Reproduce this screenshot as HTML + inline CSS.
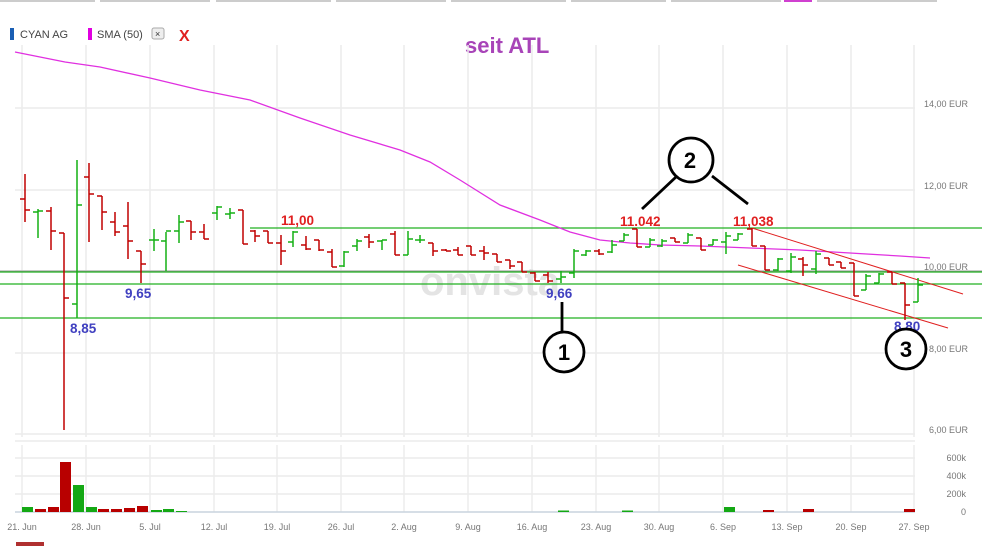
<!DOCTYPE html>
<html><head><meta charset="utf-8"><style>
body{margin:0;background:#fff;width:982px;height:546px;overflow:hidden;font-family:"Liberation Sans",sans-serif}
svg{position:absolute;left:0;top:0}
</style></head><body>
<svg id="s" width="982" height="546" xmlns="http://www.w3.org/2000/svg" font-family="Liberation Sans, sans-serif">
<g fill="#ccc"><rect x="0" y="0" width="95" height="2"/><rect x="100" y="0" width="110" height="2"/><rect x="216" y="0" width="115" height="2"/><rect x="336" y="0" width="110" height="2"/><rect x="451" y="0" width="115" height="2"/><rect x="571" y="0" width="95" height="2"/><rect x="671" y="0" width="110" height="2"/><rect x="784" y="0" width="28" height="2" fill="#d040d0"/><rect x="817" y="0" width="120" height="2"/></g>
<rect x="10" y="28" width="4" height="12" fill="#1a5fb4"/><text x="20" y="38" font-size="11" fill="#444">CYAN AG</text>
<rect x="88" y="28" width="4" height="12" fill="#e000e0"/><text x="97" y="38" font-size="11" fill="#444">SMA (50)</text>
<rect x="152" y="28" width="12" height="11" rx="2" fill="#eee" stroke="#aaa"/><text x="155" y="37" font-size="9" fill="#333">×</text>
<text x="179" y="41" font-size="16" font-weight="bold" fill="#e02020">X</text>
<text x="465" y="53" font-size="22" font-weight="bold" fill="#a844b8">seit ATL</text>
<g id="grid" stroke="#ececec" stroke-width="1.5"></g>
<text x="420" y="295" font-size="40" font-weight="bold" fill="#e4e4e4">onvista</text>
<g id="ax" font-size="9" fill="#777"></g>
<g id="lines"></g>
<g id="bars" stroke-width="1.5"></g>
<g id="vol"></g>
<g font-weight="bold" font-size="13.5">
<text x="281" y="225" fill="#e02020">11,00</text>
<text x="620" y="226" fill="#e02020">11.042</text>
<text x="733" y="226" fill="#e02020">11,038</text>
<text x="125" y="298" fill="#4040c0">9,65</text>
<text x="70" y="333" fill="#4040c0">8,85</text>
<text x="546" y="298" fill="#4040c0">9,66</text>
<text x="894" y="331" fill="#4040c0">8,80</text>
</g>
<g stroke="#000" stroke-width="2.8" fill="#fff">
<line x1="562" y1="302" x2="562" y2="332"/>
<circle cx="564" cy="352" r="20"/>
<line x1="642" y1="209" x2="676" y2="177"/><line x1="748" y1="204" x2="712" y2="176"/>
<circle cx="691" cy="160" r="22"/>
<circle cx="906" cy="349" r="20"/>
</g>
<g font-size="22" font-weight="bold" fill="#000" text-anchor="middle">
<text x="564" y="360">1</text><text x="690" y="168">2</text><text x="906" y="357">3</text></g>
<rect x="16" y="542" width="28" height="4" fill="#b03030"/>
</svg>
<script>
const ns="http://www.w3.org/2000/svg";
function el(p,t,a,txt){const e=document.createElementNS(ns,t);for(const k in a)e.setAttribute(k,a[k]);if(txt)e.textContent=txt;document.getElementById(p).appendChild(e);return e;}
const xs=[22,86,150,214,277,341,404,468,532,596,659,723,787,851,914];
const dl=["21. Jun","28. Jun","5. Jul","12. Jul","19. Jul","26. Jul","2. Aug","9. Aug","16. Aug","23. Aug","30. Aug","6. Sep","13. Sep","20. Sep","27. Sep"];
xs.forEach((x,i)=>{el("grid","line",{x1:x,y1:45,x2:x,y2:437});el("grid","line",{x1:x,y1:445,x2:x,y2:512});
el("ax","text",{x:x,y:530,"text-anchor":"middle"},dl[i]);});
[[108,"14,00"],[190,"12,00"],[271,"10,00"],[353,"8,00"],[434,"6,00"]].forEach(([y,l])=>{el("grid","line",{x1:15,y1:y,x2:915,y2:y});el("ax","text",{x:968,y:y-1,"text-anchor":"end"},l+" EUR");});
[[441,""],[458,"600k"],[476,"400k"],[494,"200k"],[512,"0"]].forEach(([y,l])=>{el("grid","line",{x1:15,y1:y,x2:915,y2:y});if(l)el("ax","text",{x:966,y:y+3,"text-anchor":"end"},l);});
el("lines","line",{x1:15,y1:512,x2:915,y2:512,stroke:"#b8c8d8","stroke-width":1});
el("lines","line",{x1:0,y1:271,x2:982,y2:271,stroke:"#999","stroke-width":1});
[[250,228],[0,272],[0,284],[0,318]].forEach(([x,y])=>el("lines","line",{x1:x,y1:y,x2:982,y2:y,stroke:"#22b022","stroke-width":1.2}));
el("lines","polyline",{points:"15,52 65,62 100,67 150,78 200,90 250,100 300,118 350,135 400,150 430,162 460,180 500,205 540,220 570,232 600,240 630,243 660,245 700,246 750,248 800,250 850,253 900,256 930,258",fill:"none",stroke:"#e030e0","stroke-width":1.3});
el("lines","line",{x1:752,y1:228,x2:963,y2:294,stroke:"#e02020","stroke-width":1});
el("lines","line",{x1:738,y1:265,x2:948,y2:328,stroke:"#e02020","stroke-width":1});
const B=[[25,174,222,199,210],[38,209,238,212,211],[51,207,250,211,231],[64,233,430,233,298],[77,160,318,304,205],[89,163,242,177,194],[102,196,230,196,212],[115,212,236,222,232],[128,202,259,226,241],[141,251,283,251,264],[154,229,251,240,240],[166,232,271,241,231],[179,215,243,231,222],[191,221,240,221,232],[204,224,239,232,239],[217,206,220,213,207],[230,208,219,214,213],[243,210,244,210,244],[255,230,242,231,236],[268,231,243,231,243],[281,235,265,243,251],[293,231,247,242,232],[306,236,250,245,249],[319,240,251,240,250],[332,249,267,252,267],[344,251,267,266,252],[357,239,251,246,241],[369,234,248,237,242],[382,240,250,241,240],[395,231,255,234,255],[408,231,255,255,239],[420,235,243,240,240],[433,243,256,243,251],[446,249,251,250,251],[458,247,255,250,255],[471,246,255,246,255],[484,246,260,251,253],[497,254,262,254,262],[510,260,269,260,266],[522,262,272,262,272],[535,272,281,273,281],[548,272,283,275,281],[561,271,283,279,277],[574,249,278,273,251],[586,250,256,255,251],[599,249,255,251,254],[612,240,253,252,245],[624,233,241,241,235],[637,229,247,229,247],[650,238,247,247,240],[662,239,247,246,241],[675,238,242,238,242],[688,233,243,243,235],[701,238,250,238,250],[713,239,245,245,240],[726,232,254,242,236],[738,233,240,240,234],[752,228,246,229,246],[765,246,270,246,270],[778,258,271,270,259],[791,253,273,271,257],[803,257,276,259,265],[816,251,274,269,254],[829,258,265,258,265],[841,262,268,262,268],[854,263,296,263,296],[866,274,290,290,276],[879,273,283,283,274],[892,272,284,272,284],[905,283,320,283,305],[918,278,302,302,285]];
B.forEach(([x,h,l,o,c])=>{const col=c<=o?"#14b014":"#c00000";
el("bars","line",{x1:x,y1:h,x2:x,y2:l,stroke:col});el("bars","line",{x1:x-5,y1:o,x2:x,y2:o,stroke:col});el("bars","line",{x1:x,y1:c,x2:x+5,y2:c,stroke:col});});
const V=[[22,507,"g"],[35,509,"r"],[48,507,"r"],[60,462,"r"],[73,485,"g"],[86,507,"g"],[98,509,"r"],[111,509,"r"],[124,508,"r"],[137,506,"r"],[151,510,"g"],[163,509,"g"],[176,511,"g"],[558,510.5,"g"],[622,510.5,"g"],[724,507,"g"],[763,510,"r"],[803,509,"r"],[904,509,"r"]];
V.forEach(([x,t,c])=>el("vol","rect",{x:x,y:t,width:11,height:512-t,fill:c=="g"?"#14a814":"#b80000"}));
</script>
</body></html>
